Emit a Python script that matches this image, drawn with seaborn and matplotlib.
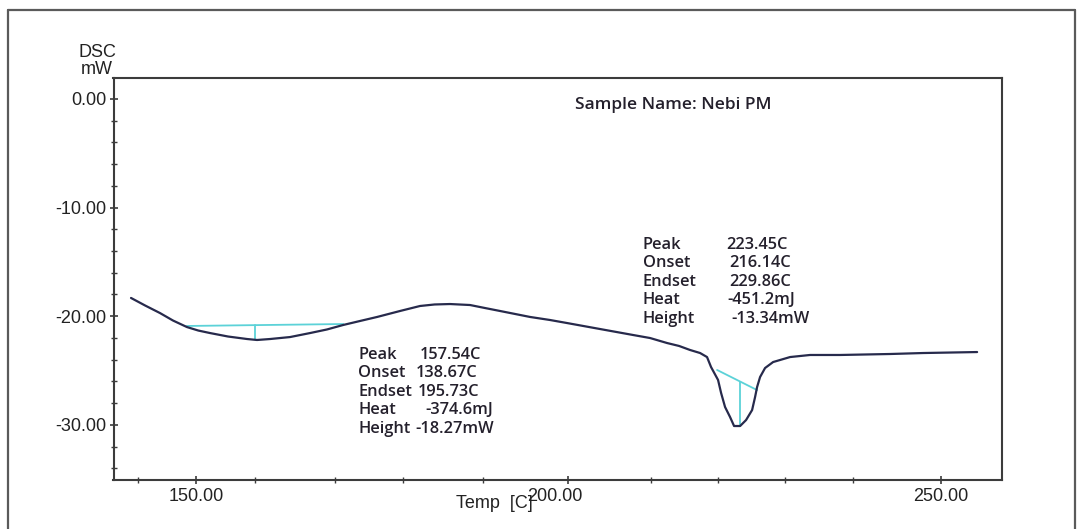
import numpy as np
import pandas as pd
import matplotlib
matplotlib.use("Agg")
import matplotlib.pyplot as plt
import matplotlib.transforms as mtransforms
import seaborn as sns
from matplotlib.ticker import FixedLocator, FormatStrFormatter
from matplotlib.lines import Line2D

# ---------------- data ----------------
temp = [141.30, 143.18, 145.19, 146.94, 148.81, 150.33, 151.90, 154.32, 156.87,
        158.21, 159.97, 162.64, 165.34, 167.61, 169.77, 172.04, 174.33, 177.41,
        180.09, 182.05, 184.12, 186.80, 188.76, 190.83, 194.86, 197.54, 199.83,
        204.25, 208.68, 210.97, 213.25, 214.86, 216.33, 217.68, 218.61, 219.15,
        220.09, 220.50, 221.03, 221.70, 222.24, 223.05, 223.85, 224.66, 225.06,
        225.33, 225.73, 226.40, 227.48, 229.76, 232.44, 236.47, 243.18, 247.61,
        254.86]
dsc = [-18.32, -19.01, -19.71, -20.40, -21.00, -21.32, -21.55, -21.87, -22.10,
       -22.19, -22.10, -21.92, -21.55, -21.22, -20.81, -20.44, -20.07, -19.52,
       -19.06, -18.92, -18.88, -18.97, -19.24, -19.52, -20.07, -20.35, -20.63,
       -21.18, -21.73, -22.01, -22.47, -22.74, -23.11, -23.39, -23.76, -24.68,
       -25.87, -27.07, -28.36, -29.28, -30.11, -30.11, -29.56, -28.64, -27.44,
       -26.52, -25.60, -24.77, -24.22, -23.76, -23.57, -23.57, -23.48, -23.39,
       -23.30]

base1_temp = [148.8, 169.8]
base1_dsc = [-20.90, -20.72]
peak1_temp = [158.0, 158.0]
peak1_dsc = [-20.83, -22.10]

base2_temp = [219.96, 225.33]
base2_dsc = [-24.95, -26.80]
peak2_temp = [223.1, 223.1]
peak2_dsc = [-26.03, -30.11]

x_major = [150, 200, 250]
x_major_labels = ["150.00", "200.00", "250.00"]
x_minor = [142.3, 158.0, 168.7, 177.8, 188.5, 211.1, 220.1, 229.1, 238.2]
y_major = [0, -10, -20, -30]

sample_text = "Sample Name: Nebi PM"
labels1 = ["Peak", "Onset", "Endset", "Heat", "Height"]
values1 = ["157.54C", "138.67C", "195.73C", "-374.6mJ", "-18.27mW"]
labels2 = ["Peak", "Onset", "Endset", "Heat", "Height"]
values2 = ["223.45C", "216.14C", "229.86C", "-451.2mJ", "-13.34mW"]

# ---------------- figure ----------------
sns.set_theme(style="white")
plt.rcParams["font.family"] = ["Liberation Sans", "DejaVu Sans"]

W, H = 1083, 529
fig = plt.figure(figsize=(W / 100, H / 100), dpi=100)
fig.patch.set_facecolor("white")

def fx(px):
    return px / W

def fy(py):
    return 1 - py / H

# outer frame
frame_col = "#5a5a5a"
for xs, ys in [((8, 8), (10, 529)), ((8, 1075), (10, 10)), ((1075, 1075), (10, 529))]:
    fig.add_artist(Line2D([fx(xs[0]), fx(xs[1])], [fy(ys[0]), fy(ys[1])],
                          transform=fig.transFigure, color=frame_col, lw=1.6))

ax = fig.add_axes([fx(113.5), fy(480), (1002 - 113.5) / W, (480 - 78) / H])
ax.set_facecolor("white")

curve_col = "#272a4c"
cyan = "#5cd2d8"

sns.lineplot(x=base1_temp, y=base1_dsc, ax=ax, color=cyan, lw=1.3, sort=False, estimator=None)
sns.lineplot(x=peak1_temp, y=peak1_dsc, ax=ax, color=cyan, lw=1.3, sort=False, estimator=None)
sns.lineplot(x=base2_temp, y=base2_dsc, ax=ax, color=cyan, lw=1.3, sort=False, estimator=None)
sns.lineplot(x=peak2_temp, y=peak2_dsc, ax=ax, color=cyan, lw=1.3, sort=False, estimator=None)
sns.lineplot(x=temp, y=dsc, ax=ax, color=curve_col, lw=1.6, sort=False, estimator=None)
for ln in ax.get_lines():
    ln.set_solid_joinstyle("round")
    ln.set_solid_capstyle("round")

ax.set_xlim(138.95, 258.2)
ax.set_ylim(-35.08, 1.93)

ax.xaxis.set_major_locator(FixedLocator(x_major))
ax.set_xticklabels(x_major_labels)
ax.xaxis.set_minor_locator(FixedLocator(x_minor))
ax.yaxis.set_major_locator(FixedLocator(y_major))
ax.yaxis.set_major_formatter(FormatStrFormatter("%.2f"))
ax.yaxis.set_minor_locator(FixedLocator(list(range(-34, 1, 2))))

spine_col = "#3c3c3c"
for s in ax.spines.values():
    s.set_visible(True)
    s.set_color(spine_col)
    s.set_linewidth(1.5)

ax.tick_params(axis="both", which="major", direction="inout", length=6, width=1.2,
               color=spine_col, labelsize=13, labelcolor="#222222", pad=2)
ax.tick_params(axis="both", which="minor", direction="inout", length=4, width=1.0,
               color=spine_col)
ax.tick_params(axis="x", which="both", bottom=True, top=False)
ax.tick_params(axis="y", which="both", left=True, right=False)
ax.tick_params(axis="x", which="major", pad=3)
ax.set_xlabel("")
ax.set_ylabel("")
ax.grid(False)

# the "200.00" label sits slightly left of its tick in the reference
shift = mtransforms.ScaledTranslation(-14 / 100, 0, fig.dpi_scale_trans)
for lab in ax.get_xticklabels():
    if lab.get_text() == "200.00":
        lab.set_transform(lab.get_transform() + shift)

# axis titles
fig.text(fx(97), fy(61), "DSC\nmW", ha="center", va="center", fontsize=13,
         color="#222222", linespacing=0.95)
fig.text(fx(494), fy(504), "Temp  [C]", ha="center", va="center", fontsize=13,
         color="#222222")

# annotations
afont = ["Open Sans", "DejaVu Sans"]
tcol = "#24202c"
fig.text(fx(575), fy(105), sample_text, ha="left", va="center", fontsize=12.5,
         color=tcol, family=afont, fontweight="semibold")

ys1 = [355, 373.3, 391.7, 410, 429.3]
vx1 = [420, 416, 418, 425, 415]
for lab, val, yy, xv in zip(labels1, values1, ys1, vx1):
    fig.text(fx(358), fy(yy), lab, ha="left", va="center", fontsize=11.8, color=tcol,
             family=afont, fontweight="semibold")
    fig.text(fx(xv), fy(yy), val, ha="left", va="center", fontsize=11.8, color=tcol,
             family=afont, fontweight="semibold")

ys2 = [245, 263.3, 281.7, 300, 319.3]
vx2 = [726.7, 729, 729, 727.7, 731]
for lab, val, yy, xv in zip(labels2, values2, ys2, vx2):
    fig.text(fx(643), fy(yy), lab, ha="left", va="center", fontsize=11.8, color=tcol,
             family=afont, fontweight="semibold")
    fig.text(fx(xv), fy(yy), val, ha="left", va="center", fontsize=11.8, color=tcol,
             family=afont, fontweight="semibold")

fig.savefig("out.png", dpi=100, facecolor="white")
